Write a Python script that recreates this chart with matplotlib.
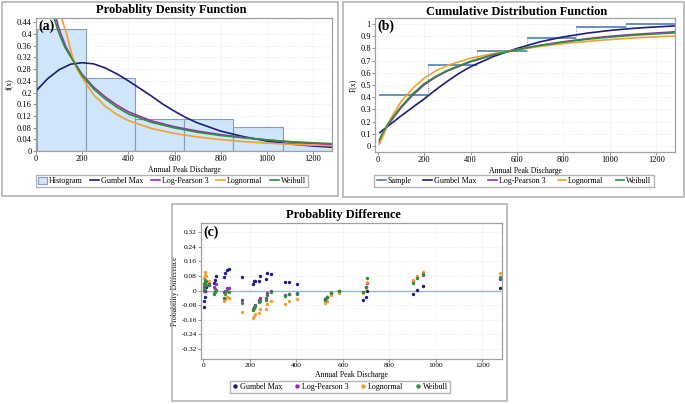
"""
Three panels: PDF with histogram, CDF with sample steps, probability differences.
"""
import matplotlib.pyplot as plt
from matplotlib.patches import Rectangle, Patch
from matplotlib.lines import Line2D

plt.rcParams['font.family'] = ['Liberation Serif', 'DejaVu Serif']

# colours of the fitted distributions
C_GUM = '#1e1e7c'
C_LP3 = '#9a2fae'
C_LN = '#f0a035'
C_WEI = '#2e8f3a'
C_HIST = '#cfe5fa'
C_SAMPLE = '#4a80b0'

# histogram / sample steps
bin_edges = [5, 216, 429, 642, 855, 1069, 1283]
bin_prob = [0.4167, 0.25, 0.1111, 0.1111, 0.0833, 0.0278]
cum_prob = [0.4167, 0.6667, 0.7778, 0.8889, 0.9722, 1.0]

# pdf curves
gum_pdf_x = [0, 50, 100, 150, 200, 250, 300, 350, 400, 450, 500, 550, 600, 650,
             700, 800, 900, 1000, 1100, 1200, 1282]
gum_pdf_y = [0.205, 0.247, 0.278, 0.297, 0.302, 0.298, 0.284, 0.264, 0.240, 0.214,
             0.188, 0.160, 0.136, 0.114, 0.096, 0.068, 0.049, 0.034, 0.024, 0.017, 0.013]
lp3_pdf_x = [78, 87, 97, 108, 130, 156, 175, 200, 250, 300, 350, 400, 500, 600,
             700, 800, 900, 1000, 1100, 1200, 1282]
lp3_pdf_y = [0.50, 0.455, 0.425, 0.40, 0.355, 0.32, 0.292, 0.262, 0.218, 0.185, 0.157,
             0.134, 0.103, 0.083, 0.068, 0.056, 0.046, 0.038, 0.031, 0.026, 0.021]
ln_pdf_x = [100, 111, 122, 133, 145, 159, 175, 200, 250, 300, 350, 400, 500, 600,
            700, 800, 900, 1000, 1100, 1200, 1282]
ln_pdf_y = [0.50, 0.455, 0.425, 0.40, 0.36, 0.32, 0.285, 0.25, 0.192, 0.153, 0.125,
            0.104, 0.077, 0.060, 0.048, 0.039, 0.032, 0.027, 0.023, 0.020, 0.018]
wei_pdf_x = [70, 79, 90, 101, 125, 152, 175, 200, 250, 300, 350, 400, 500, 600,
             700, 800, 900, 1000, 1100, 1200, 1282]
wei_pdf_y = [0.50, 0.455, 0.425, 0.40, 0.355, 0.32, 0.29, 0.258, 0.212, 0.178, 0.15,
             0.127, 0.098, 0.079, 0.064, 0.053, 0.045, 0.038, 0.032, 0.028, 0.025]

# cdf curves
gum_cdf_x = [10, 50, 100, 150, 200, 250, 300, 350, 400, 500, 600, 700, 800, 900,
             1000, 1100, 1200, 1282]
gum_cdf_y = [0.11, 0.17, 0.245, 0.315, 0.385, 0.46, 0.53, 0.595, 0.65, 0.735, 0.80,
             0.855, 0.895, 0.925, 0.948, 0.965, 0.977, 0.985]
cdf_x = [8, 20, 40, 60, 100, 150, 200, 250, 300, 400, 500, 600, 700, 800, 900,
         1000, 1100, 1200, 1282]
lp3_cdf_y = [0.03, 0.085, 0.155, 0.21, 0.31, 0.415, 0.50, 0.565, 0.615, 0.69, 0.748,
             0.79, 0.826, 0.855, 0.88, 0.90, 0.915, 0.927, 0.937]
ln_cdf_y = [0.015, 0.065, 0.16, 0.235, 0.36, 0.47, 0.555, 0.615, 0.66, 0.72, 0.758,
            0.79, 0.817, 0.84, 0.858, 0.873, 0.886, 0.896, 0.903]
wei_cdf_y = [0.05, 0.10, 0.165, 0.22, 0.32, 0.425, 0.51, 0.57, 0.62, 0.695, 0.75,
             0.79, 0.825, 0.852, 0.875, 0.893, 0.908, 0.92, 0.928]

# probability differences at each observation
obs_x = [2, 4, 6, 9, 12, 25, 45, 50, 55, 88, 92, 100, 112, 165, 212, 218, 222, 240,
         245, 270, 275, 290, 350, 368, 405, 522, 530, 548, 582, 685, 700, 705, 900,
         920, 945, 1275]
diff_gum = [-0.088, -0.06, -0.033, 0.0, 0.02, 0.03, 0.04, 0.058, 0.08, 0.075, 0.095,
            0.113, 0.12, 0.073, 0.035, 0.05, 0.055, 0.05, 0.08, 0.065, 0.095, 0.093,
            0.046, 0.047, 0.035, -0.045, -0.035, -0.015, 0.0, -0.05, -0.033, -0.005,
            -0.02, 0.004, 0.026, 0.013]
diff_lp3 = [0.0, 0.02, 0.03, 0.04, 0.05, 0.044, 0.02, 0.01, 0.035, -0.01, 0.0, 0.015,
            0.015, -0.05, -0.1, -0.09, -0.08, -0.05, -0.04, -0.04, -0.015, -0.005,
            -0.025, -0.018, -0.013, -0.045, -0.035, -0.015, -0.005, -0.01, 0.02, 0.04,
            0.05, 0.073, 0.086, 0.062]
diff_ln = [0.04, 0.068, 0.086, 0.104, 0.08, 0.055, -0.01, 0.0, 0.005, -0.06, -0.045,
           -0.035, -0.04, -0.115, -0.15, -0.14, -0.13, -0.125, -0.1, -0.1, -0.075,
           -0.055, -0.073, -0.056, -0.045, -0.07, -0.055, -0.025, -0.015, -0.012, 0.015,
           0.045, 0.058, 0.08, 0.104, 0.095]
diff_wei = [0.01, 0.035, 0.045, 0.059, 0.031, 0.03, -0.02, -0.01, 0.005, -0.04, -0.02,
            -0.005, -0.01, -0.07, -0.105, -0.095, -0.085, -0.065, -0.055, -0.05, -0.025,
            -0.01, -0.03, -0.02, -0.018, -0.05, -0.035, -0.015, 0.0, -0.01, 0.02, 0.068,
            0.044, 0.066, 0.09, 0.073]

W, H = 685, 404
fig = plt.figure(figsize=(W / 100, H / 100), dpi=100)


def box(x0, y0, x1, y1):
    # grey frame around a panel, given in pixels from the top left
    fig.patches.append(Rectangle((x0 / W, 1 - y1 / H), (x1 - x0) / W, (y1 - y0) / H,
                                 transform=fig.transFigure, fill=False,
                                 edgecolor='#b4b4b4', linewidth=1.2))


def style(ax, label):
    for s in ax.spines.values():
        s.set_color('#a0a0a0')
        s.set_linewidth(0.9)
    ax.tick_params(labelsize=6, length=2, width=0.6, color='#808080', pad=1)
    ax.grid(True, color='#e4e4e4', linestyle=':', linewidth=0.6)
    ax.set_axisbelow(True)
    ax.xaxis.label.set_size(5.6)
    ax.yaxis.label.set_size(5.6)
    ax.text(0.008, 0.985, label, transform=ax.transAxes, ha='left', va='top',
            fontsize=10, fontweight='bold')


def legend(handles, labels, cx, cy, spacing, hl=1.1):
    fig.legend(handles, labels, loc='center', bbox_to_anchor=(cx / W, 1 - cy / H),
               ncol=len(labels), fontsize=5.8, frameon=True, fancybox=False,
               edgecolor='#b4b4b4', framealpha=1, handlelength=hl,
               handletextpad=0.2, columnspacing=spacing, borderpad=0.3,
               handleheight=0.9)


box(2, 2, 338, 196)
box(343, 2, 684, 197)
box(172, 204, 507, 401)

# (a) PDF
ax1 = fig.add_axes([36 / W, 1 - 151 / H, 296 / W, 133 / H])
ax1.bar(bin_edges[:-1], bin_prob, width=[b - a for a, b in zip(bin_edges[:-1], bin_edges[1:])],
        align='edge', color=C_HIST, edgecolor='#8c9cb0', linewidth=0.8)
ax1.plot(gum_pdf_x, gum_pdf_y, color=C_GUM, lw=1.2)
ax1.plot(lp3_pdf_x, lp3_pdf_y, color=C_LP3, lw=1.2)
ax1.plot(ln_pdf_x, ln_pdf_y, color=C_LN, lw=1.2)
ax1.plot(wei_pdf_x, wei_pdf_y, color=C_WEI, lw=1.2)
ax1.set_xlim(0, 1282)
ax1.set_ylim(0, 0.455)
ax1.set_xticks(range(0, 1201, 200))
ax1.set_yticks([i * 0.04 for i in range(12)])
ax1.set_yticklabels(['0'] + ['%g' % round(i * 0.04, 2) for i in range(1, 12)])
ax1.set_xlabel('Annual Peak Discharge', labelpad=2)
ax1.set_ylabel('f(x)', labelpad=2)
style(ax1, '(a)')
fig.text(171 / W, 1 - 10 / H, 'Probablity Density Function', ha='center', va='center',
         fontsize=8.9, fontweight='bold')

h_a = [Patch(facecolor=C_HIST, edgecolor='#8c9cb0', linewidth=0.8),
       Line2D([], [], color=C_GUM, lw=1.2), Line2D([], [], color=C_LP3, lw=1.2),
       Line2D([], [], color=C_LN, lw=1.2), Line2D([], [], color=C_WEI, lw=1.2)]
legend(h_a, ['Histogram', 'Gumbel Max', 'Log-Pearson 3', 'Lognormal', 'Weibull'],
       172, 181, 1.0)

# (b) CDF
ax2 = fig.add_axes([375 / W, 1 - 152 / H, 300 / W, 134 / H])
ax2.hlines(cum_prob, bin_edges[:-1], bin_edges[1:], color=C_SAMPLE, lw=1.2)
ax2.vlines(bin_edges[1:-1], cum_prob[:-1], cum_prob[1:], color=C_SAMPLE, lw=0.6,
           linestyles=':')
ax2.plot(gum_cdf_x, gum_cdf_y, color=C_GUM, lw=1.2)
ax2.plot(cdf_x, lp3_cdf_y, color=C_LP3, lw=1.2)
ax2.plot(cdf_x, ln_cdf_y, color=C_LN, lw=1.2)
ax2.plot(cdf_x, wei_cdf_y, color=C_WEI, lw=1.2)
ax2.set_xlim(-11, 1280)
ax2.set_ylim(-0.05, 1.05)
ax2.set_xticks(range(0, 1201, 200))
ax2.set_yticks([i / 10 for i in range(11)])
ax2.set_yticklabels(['0'] + ['%g' % (i / 10) for i in range(1, 11)])
ax2.set_xlabel('Annual Peak Discharge', labelpad=2)
ax2.set_ylabel('F(x)', labelpad=2)
style(ax2, '(b)')
fig.text(517 / W, 1 - 12 / H, 'Cumulative Distribution Function', ha='center',
         va='center', fontsize=8.9, fontweight='bold')

h_b = [Line2D([], [], color=C_SAMPLE, lw=1.2)] + h_a[1:]
legend(h_b, ['Sample', 'Gumbel Max', 'Log-Pearson 3', 'Lognormal', 'Weibull'],
       514, 181, 1.5)

# (c) probability difference
ax3 = fig.add_axes([201 / W, 1 - 359 / H, 301 / W, 136 / H])
ax3.plot([0, 1275], [0, 0], color='#9ab8c0', lw=1.0)
for d, c in [(diff_gum, C_GUM), (diff_lp3, C_LP3), (diff_ln, C_LN), (diff_wei, C_WEI)]:
    ax3.scatter(obs_x, d, s=6, marker='o', color=c, linewidths=0, zorder=3)
ax3.set_xlim(-10, 1285)
ax3.set_ylim(-0.375, 0.37)
ax3.set_xticks(range(0, 1201, 200))
ax3.set_yticks([i * 0.08 for i in range(-4, 5)])
ax3.set_yticklabels(['%g' % round(i * 0.08, 2) for i in range(-4, 5)])
ax3.set_xlabel('Annual Peak Discharge', labelpad=2)
ax3.set_ylabel('Probability Difference', labelpad=2)
style(ax3, '(c)')
ax3.tick_params(labelsize=5.3)
fig.text(343 / W, 1 - 215 / H, 'Probablity Difference', ha='center', va='center',
         fontsize=8.9, fontweight='bold')

h_c = [Line2D([], [], color=c, marker='o', markersize=2.2, lw=0)
       for c in [C_GUM, C_LP3, C_LN, C_WEI]]
legend(h_c, ['Gumbel Max', 'Log-Pearson 3', 'Lognormal', 'Weibull'], 340, 387, 1.4,
       hl=0.8)

fig.savefig('out.png', dpi=100)
